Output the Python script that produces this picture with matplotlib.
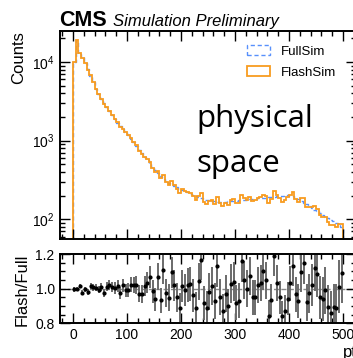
import numpy as np
import matplotlib
matplotlib.use("Agg")
import matplotlib.pyplot as plt
from matplotlib.patches import Rectangle
from matplotlib.ticker import MultipleLocator, LogLocator, NullFormatter, FixedLocator

plt.rcParams["font.family"] = ["Liberation Sans", "DejaVu Sans"]
plt.rcParams["mathtext.fontset"] = "custom"
plt.rcParams["mathtext.rm"] = "Liberation Sans"
plt.rcParams["mathtext.default"] = "regular"

# ---- data ----
pt_min, pt_max, n_bins = 0, 500, 100

fullsim = [10000, 19000, 12800, 11500, 9800, 8100, 6700, 5500, 4550, 3900,
           3400, 3000, 2650, 2350, 2100, 1880, 1700, 1530, 1400, 1290,
           1180, 1060, 950, 850, 770, 690, 620, 560, 505, 460,
           420, 385, 355, 330, 310, 292, 278, 265, 255, 245,
           236, 228, 220, 212, 205, 198, 192, 186, 182, 178,
           175, 172, 170, 168, 167, 168, 168, 170, 171, 172,
           173, 174, 176, 177, 178, 180, 181, 183, 184, 186,
           187, 189, 190, 192, 194, 196, 198, 200, 201, 202,
           200, 195, 188, 180, 172, 163, 155, 147, 140, 133,
           126, 120, 114, 108, 103, 99, 95, 91, 87, 80]

flashsim = [9960, 19000, 12990, 11240, 9760, 7950, 6790, 5544, 4580, 3880,
            3434, 2925, 2680, 2395, 2121, 1888, 1722, 1492, 1427, 1277,
            1173, 1084, 968, 868, 747, 669, 628, 579, 539, 453,
            394, 412, 331, 366, 302, 277, 304, 270, 242, 218,
            240, 226, 225, 218, 197, 176, 200, 217, 167, 158,
            172, 175, 158, 190, 159, 146, 163, 153, 176, 179,
            159, 162, 204, 186, 178, 193, 172, 174, 188, 192,
            206, 198, 160, 179, 231, 202, 188, 168, 175, 190,
            206, 220, 182, 167, 189, 187, 143, 143, 143, 149,
            137, 114, 107, 107, 92, 85, 85, 81, 88, 87]

legend_labels = ["FullSim", "FlashSim"]
colors = ["#5790fc", "#f89c20"]
annotation_lines = ["physical", "space"]

# ---- derived ----
edges = np.linspace(pt_min, pt_max, n_bins + 1)
centers = 0.5 * (edges[1:] + edges[:-1])
full = np.array(fullsim, float)
flash = np.array(flashsim, float)
ratio = flash / full
ratio_err = ratio * np.sqrt(1.0 / flash + 1.0 / full)

W, H = 353, 358
fig = plt.figure(figsize=(W / 100, H / 100), dpi=100)

def frac_x(px):
    return px / W

def frac_y(py):
    return 1 - py / H

ax_l, ax_r = 59.5, 356.5
ax = fig.add_axes([frac_x(ax_l), frac_y(239.3), frac_x(ax_r - ax_l), (239.3 - 30.7) / H])
rax = fig.add_axes([frac_x(ax_l), frac_y(323.3), frac_x(ax_r - ax_l), (323.3 - 254) / H])

ax.stairs(full, edges, color=colors[0], ls=(0, (3, 2)), lw=1.0)
ax.stairs(flash, edges, color=colors[1], lw=1.3)
ax.set_yscale("log")
ax.set_xlim(-25, 525)
ax.set_ylim(55.7, 25000)

rax.errorbar(centers, ratio, yerr=ratio_err, fmt="o", ms=2.0, color="black",
             ecolor="#6a6a6a", elinewidth=1.4, capsize=0)
rax.axhline(1.0, color="#8a8a8a", ls="--", lw=1.0, zorder=0)
rax.set_xlim(-25, 525)
rax.set_ylim(0.8, 1.2)

for a in (ax, rax):
    for s in a.spines.values():
        s.set_linewidth(1.4)
    a.tick_params(which="both", direction="in", top=True, right=True, width=1.0, labelsize=10)
    a.tick_params(which="major", length=7)
    a.tick_params(which="minor", length=3.5)
    a.xaxis.set_major_locator(MultipleLocator(100))
    a.xaxis.set_minor_locator(MultipleLocator(20))

ax.tick_params(labelbottom=False)
ax.yaxis.set_major_locator(LogLocator(base=10, numticks=10))
ax.yaxis.set_minor_locator(LogLocator(base=10, subs=np.arange(2, 10), numticks=10))
ax.yaxis.set_minor_formatter(NullFormatter())

rax.yaxis.set_major_locator(FixedLocator([0.8, 1.0, 1.2]))
rax.yaxis.set_minor_locator(MultipleLocator(0.05))
rax.set_yticklabels(["0.8", "1.0", "1.2"])

ax.set_ylabel("Counts", loc="top", fontsize=12, labelpad=4)
rax.set_ylabel("Flash/Full", loc="top", fontsize=12, labelpad=4)
rax.set_xlabel("pt", loc="right", fontsize=12, labelpad=2)

handles = [Rectangle((0, 0), 1, 1, fc="none", ec=colors[0], ls=(0, (3, 2)), lw=1.0),
           Rectangle((0, 0), 1, 1, fc="none", ec=colors[1], lw=1.3)]
ax.legend(handles, legend_labels, loc="upper left",
          bbox_to_anchor=((247 - ax_l) / (ax_r - ax_l), (239.3 - 45) / (239.3 - 30.7)),
          frameon=False, fontsize=9.5, borderpad=0, borderaxespad=0,
          handlelength=1.75, handleheight=0.8, handletextpad=0.8, labelspacing=0.65)

for line, base_px in zip(annotation_lines, (127, 172)):
    fig.text(frac_x(196), frac_y(base_px), line, ha="left", va="baseline", fontsize=22.5,
             family=["Open Sans", "DejaVu Sans"])

fig.text(frac_x(59), frac_y(26), "CMS", fontsize=15.5, fontweight="bold", va="baseline", ha="left")
fig.text(frac_x(113), frac_y(26), "Simulation Preliminary", fontsize=12, style="italic",
         va="baseline", ha="left")

fig.savefig("out.png", dpi=100)
